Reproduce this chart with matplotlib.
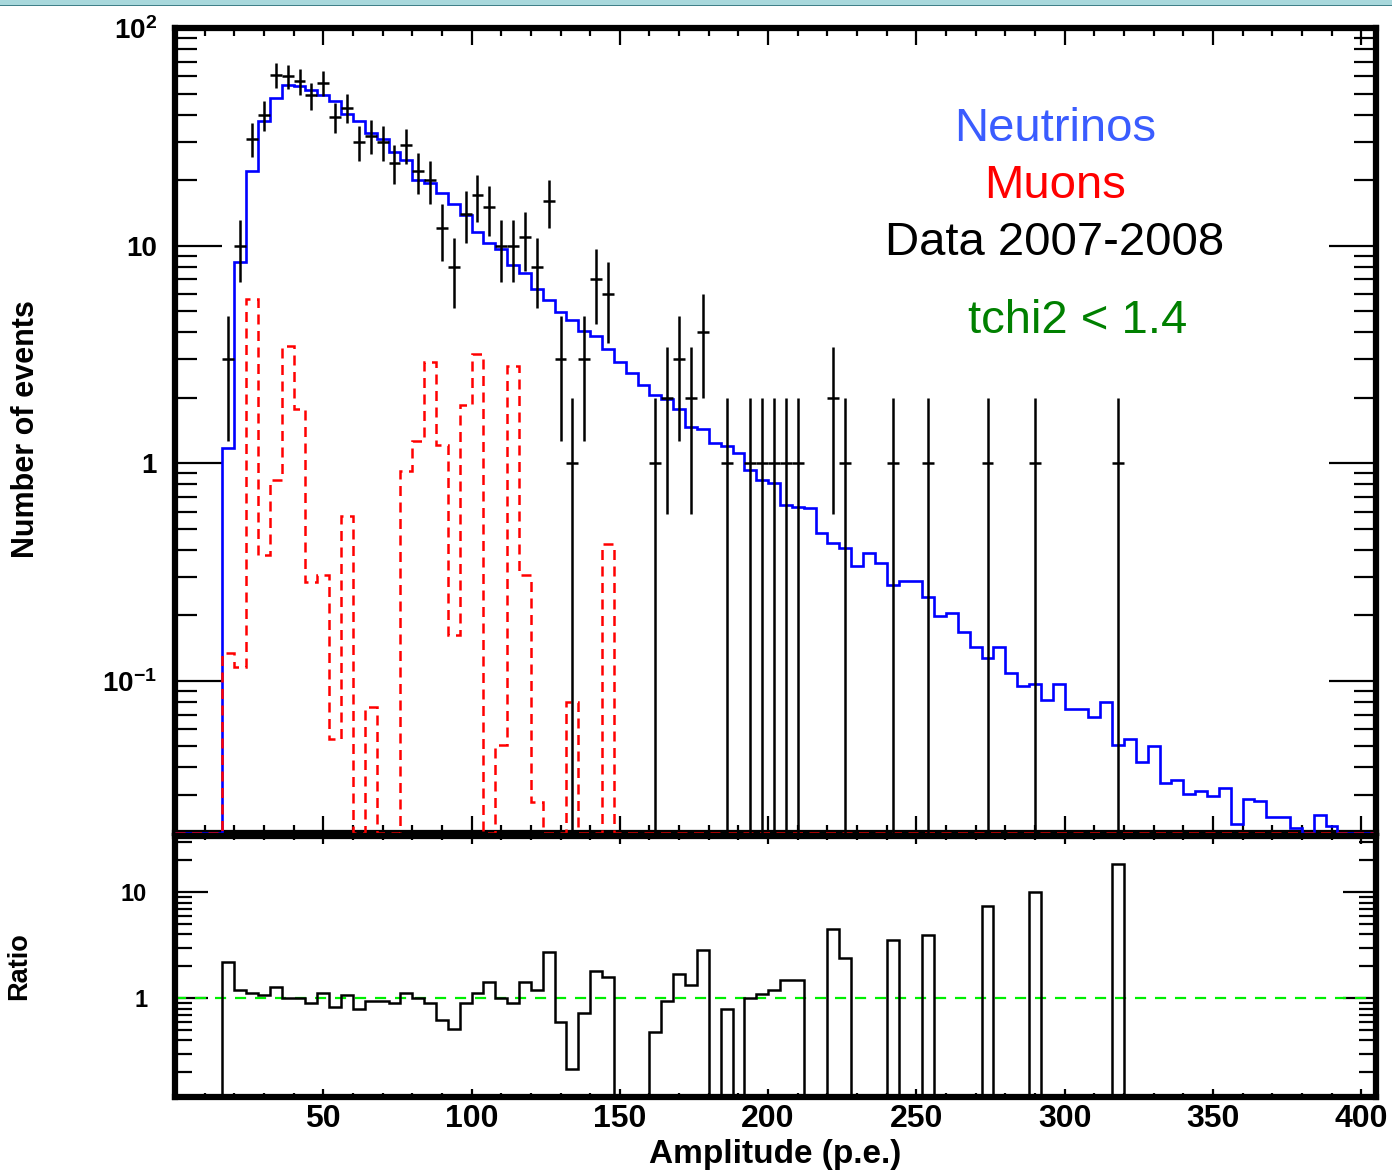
import numpy as np
import matplotlib
matplotlib.use("Agg")
import matplotlib.pyplot as plt
from matplotlib.ticker import MultipleLocator, LogLocator, NullFormatter
from matplotlib.patches import Rectangle

plt.rcParams['font.family'] = ['Liberation Sans', 'DejaVu Sans']
plt.rcParams['mathtext.fontset'] = 'custom'
plt.rcParams['mathtext.rm'] = 'Liberation Sans'
plt.rcParams['mathtext.bf'] = 'Liberation Sans:bold'
plt.rcParams['mathtext.it'] = 'Liberation Sans:italic'

# ---------------- data (bin width 4 p.e., bins start at 0) ----------------
bin_width = 4.0
n_bins = 101

neutrinos = [0, 0, 0, 0, 1.17, 8.4, 22.0, 37.4, 47.6, 55.0,
             54.0, 51.8, 49.3, 46.3, 40.2, 37.4, 33.0, 30.9, 26.8, 24.7,
             20.0, 19.5, 17.5, 15.5, 13.8, 11.6, 10.3, 9.6, 8.15, 7.5,
             6.3, 5.65, 4.94, 4.56, 4.07, 3.86, 3.36, 2.91, 2.59, 2.28,
             2.05, 1.98, 1.78, 1.46, 1.43, 1.24, 1.20, 1.11, 0.935, 0.84,
             0.81, 0.64, 0.63, 0.62, 0.48, 0.43, 0.41, 0.338, 0.388, 0.347,
             0.277, 0.288, 0.288, 0.244, 0.199, 0.205, 0.168, 0.143, 0.127, 0.143,
             0.109, 0.095, 0.097, 0.082, 0.097, 0.074, 0.074, 0.068, 0.080, 0.051,
             0.054, 0.0426, 0.050, 0.034, 0.035, 0.0302, 0.0313, 0.0295, 0.0322, 0.0219,
             0.0287, 0.028, 0.0237, 0.0237, 0.021, 0, 0.0243, 0.0216, 0, 0,
             0]

muons = [0, 0, 0, 0, 0.135, 0.116, 5.68, 0.38, 0.84, 3.45,
         1.77, 0.284, 0.308, 0.054, 0.57, 0, 0.0757, 0, 0, 0.917,
         1.27, 2.92, 1.21, 0.163, 1.85, 3.18, 0, 0.051, 2.8, 0.306,
         0.0277, 0, 0, 0.080, 0, 0, 0.427]

data_counts = [0, 0, 0, 0, 3, 10, 31, 40, 61, 60,
               57, 49, 56, 39, 43, 30, 32, 30, 24, 29,
               22, 20, 12, 8, 14, 17, 15, 10, 10, 11,
               8, 16, 3, 1, 3, 7, 6, 0, 0, 0,
               1, 2, 3, 2, 4, 0, 1, 0, 1, 1,
               1, 1, 1, 0, 0, 2, 1, 0, 0, 0,
               1, 0, 0, 1, 0, 0, 0, 0, 1, 0,
               0, 0, 1, 0, 0, 0, 0, 0, 0, 1]

ratio = [0, 0, 0, 0, 2.22, 1.2, 1.13, 1.07, 1.29, 1.0,
         1.0, 0.91, 1.13, 0.83, 1.07, 0.79, 0.95, 0.95, 0.91, 1.11,
         1.0, 0.91, 0.63, 0.51, 0.91, 1.13, 1.42, 1.0, 0.91, 1.42,
         1.2, 2.76, 0.6, 0.217, 0.72, 1.79, 1.6, 0, 0, 0,
         0.48, 0.95, 1.69, 1.34, 2.83, 0, 0.79, 0, 1.0, 1.1,
         1.2, 1.49, 1.49, 0, 0, 4.5, 2.39, 0, 0, 0,
         3.56, 0, 0, 3.97, 0, 0, 0, 0, 7.4, 0,
         0, 0, 10.0, 0, 0, 0, 0, 0, 0, 18.7]

x_ticks = [50, 100, 150, 200, 250, 300, 350, 400]
top_yticks = [0.1, 1, 10, 100]
top_ylabels = [r'$\mathbf{10^{-1}}$', '1', '10', r'$\mathbf{10^{2}}$']
bot_yticks = [1, 10]
bot_ylabels = ['1', '10']

# ---------------- helpers ----------------
def padded(values):
    v = np.zeros(n_bins)
    v[:len(values)] = values
    return v

edges = np.arange(n_bins + 1) * bin_width
centers = edges[:-1] + bin_width / 2

nu = padded(neutrinos)
mu = padded(muons)
dat = padded(data_counts)
rat = padded(ratio)

TOP_YMIN, TOP_YMAX = 0.02, 100
BOT_YMIN, BOT_YMAX = 0.117, 34
XMAX = 405

W_PX, H_PX = 1392, 1174
fig = plt.figure(figsize=(W_PX / 100, H_PX / 100), dpi=100)
fig.patch.set_facecolor('white')

left_px, right_px = 175, 1376
ax1 = fig.add_axes([left_px / W_PX, 1 - 833 / H_PX, (right_px - left_px) / W_PX, (833 - 28) / H_PX])
ax2 = fig.add_axes([left_px / W_PX, 1 - 1097 / H_PX, (right_px - left_px) / W_PX, (1097 - 836) / H_PX])

# ---------------- top panel ----------------
ax1.set_yscale('log')
ax1.set_xlim(0, XMAX)
ax1.set_ylim(TOP_YMIN, TOP_YMAX)

ax1.stairs(np.where(nu > 0, nu, TOP_YMIN), edges, baseline=None,
           color='#0000ff', lw=1.9, zorder=3)
ax1.stairs(np.where(mu > 0, mu, TOP_YMIN), edges, baseline=None,
           color='#ff0000', lw=1.8, linestyle=(0, (4, 2.6)), zorder=3.1)

m = dat > 0
yv = dat[m]
lo = yv - np.maximum(yv - np.sqrt(yv), 1e-4)
hi = np.sqrt(yv)
ax1.errorbar(centers[m], yv, xerr=bin_width / 2, yerr=[lo, hi], fmt='none',
             ecolor='black', elinewidth=1.8, capsize=0, zorder=4)

ax1.set_yticks(top_yticks, top_ylabels, fontsize=20, fontweight='bold')
ax1.yaxis.set_minor_locator(LogLocator(base=10, subs=np.arange(2, 10), numticks=30))
ax1.yaxis.set_minor_formatter(NullFormatter())
ax1.xaxis.set_major_locator(MultipleLocator(50))
ax1.xaxis.set_minor_locator(MultipleLocator(10))
ax1.tick_params(axis='y', which='major', direction='in', length=34, width=1.6,
                left=True, right=True, pad=13)
ax1.tick_params(axis='y', which='minor', direction='in', length=16, width=1.6,
                left=True, right=True)
ax1.tick_params(axis='x', which='major', direction='in', length=12, width=1.6,
                top=True, bottom=True, labelbottom=False)
ax1.tick_params(axis='x', which='minor', direction='in', length=6, width=1.6,
                top=True, bottom=True)
for s in ax1.spines.values():
    s.set_linewidth(4.5)

# legend-like texts
fs = 34
fig.text(1055 / W_PX, 1 - 141 / H_PX, 'Neutrinos', color='#3a5cff', fontsize=fs,
         ha='center', va='baseline')
fig.text(1055 / W_PX, 1 - 198 / H_PX, 'Muons', color='#ff0000', fontsize=fs,
         ha='center', va='baseline')
fig.text(1055 / W_PX, 1 - 255 / H_PX, 'Data 2007-2008', color='black', fontsize=fs,
         ha='center', va='baseline')
fig.text(1078 / W_PX, 1 - 333 / H_PX, 'tchi2 < 1.4', color='#008000', fontsize=fs,
         ha='center', va='baseline')

# ---------------- ratio panel ----------------
ax2.set_yscale('log')
ax2.set_xlim(0, XMAX)
ax2.set_ylim(BOT_YMIN, BOT_YMAX)
ax2.axhline(1.0, color='#00ee00', lw=1.6, linestyle=(0, (5, 4)), zorder=2)
ax2.stairs(np.where(rat > 0, rat, BOT_YMIN * 0.5), edges, baseline=None,
           color='black', lw=1.8, zorder=3)

ax2.set_yticks(bot_yticks, bot_ylabels, fontsize=17, fontweight='bold')
ax2.yaxis.set_minor_locator(LogLocator(base=10, subs=np.arange(2, 10), numticks=30))
ax2.yaxis.set_minor_formatter(NullFormatter())
ax2.set_xticks(x_ticks, [str(t) for t in x_ticks], fontsize=23, fontweight='bold')
ax2.xaxis.set_minor_locator(MultipleLocator(10))
ax2.tick_params(axis='y', which='major', direction='in', length=24, width=1.6,
                left=True, right=True, pad=20)
ax2.tick_params(axis='y', which='minor', direction='in', length=12, width=1.6,
                left=True, right=True)
ax2.tick_params(axis='x', which='major', direction='in', length=6, width=1.6,
                top=True, bottom=True, pad=5)
ax2.tick_params(axis='x', which='minor', direction='in', length=3, width=1.6,
                top=True, bottom=True)
for s in ax2.spines.values():
    s.set_linewidth(4.5)

# axis titles
fig.text(26 / W_PX, 1 - 429 / H_PX, 'Number of events', rotation=90, fontsize=22,
         fontweight='bold', ha='center', va='center')
fig.text(19 / W_PX, 1 - 966 / H_PX, 'Ratio', rotation=90, fontsize=19.5,
         fontweight='bold', ha='center', va='center')
fig.text(775 / W_PX, 1 - 1155 / H_PX, 'Amplitude (p.e.)', fontsize=24,
         fontweight='bold', ha='center', va='center')

# slide border band at the very top
fig.patches.append(Rectangle((0, 1 - 5 / H_PX), 1, 5 / H_PX, transform=fig.transFigure,
                             facecolor='#a8d8dc', edgecolor='none', zorder=10))
fig.patches.append(Rectangle((0, 1 - 6 / H_PX), 1, 1.2 / H_PX, transform=fig.transFigure,
                             facecolor='#3f7f88', edgecolor='none', zorder=10))

fig.savefig('out.png', dpi=100, facecolor='white')
